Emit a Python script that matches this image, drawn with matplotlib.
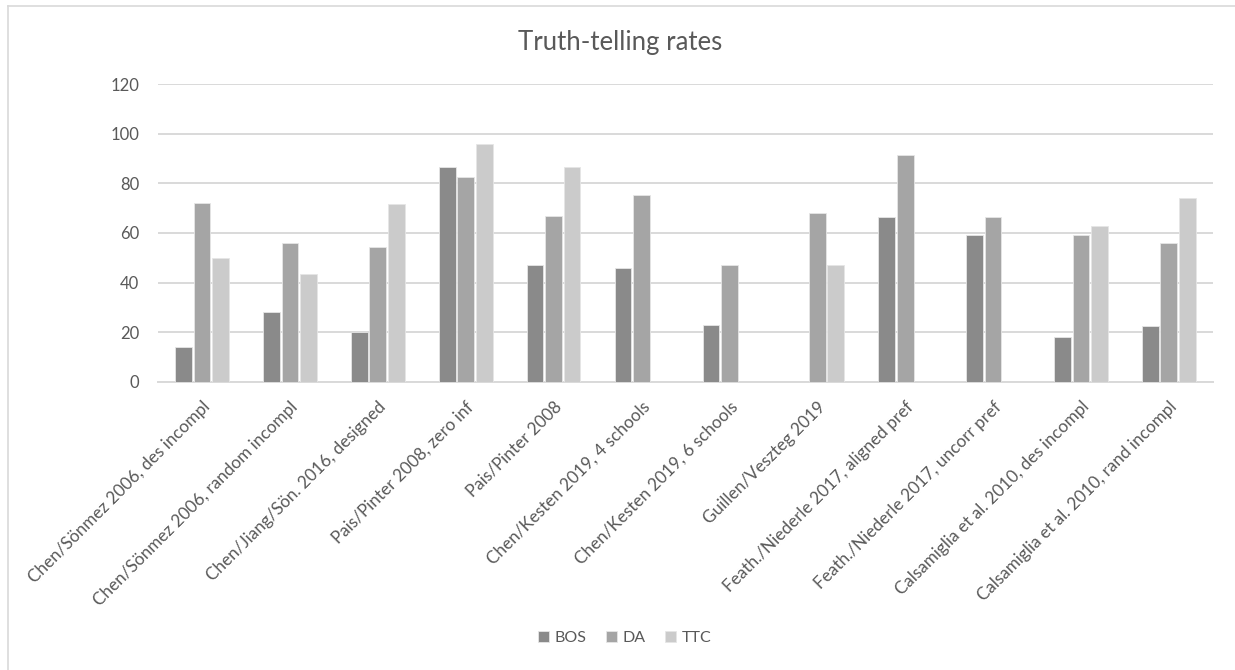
import numpy as np
import matplotlib
matplotlib.use('Agg')
import matplotlib.pyplot as plt
from matplotlib.lines import Line2D

plt.rcParams['font.family'] = ['Lato', 'DejaVu Sans']

# Daten
studies = ['Chen/Sönmez 2006, des incompl',
           'Chen/Sönmez 2006, random incompl',
           'Chen/Jiang/Sön. 2016, designed',
           'Pais/Pinter 2008, zero inf',
           'Pais/Pinter 2008',
           'Chen/Kesten 2019, 4 schools',
           'Chen/Kesten 2019, 6 schools',
           'Guillen/Veszteg 2019',
           'Feath./Niederle 2017, aligned pref',
           'Feath./Niederle 2017, uncorr pref',
           'Calsamiglia et al. 2010, des incompl',
           'Calsamiglia et al. 2010, rand incompl']
bos = [14, 28, 20, 86.5, 47, 46, 23, np.nan, 66.5, 59, 18, 22.5]
da = [72, 56, 54.5, 82.5, 67, 75.5, 47, 68, 91.5, 66.5, 59, 56]
ttc = [50, 43.5, 71.5, 96, 86.5, np.nan, np.nan, 47, np.nan, np.nan, 63, 74]
series = ['BOS', 'DA', 'TTC']
farben = ['#8a8a8a', '#a5a5a5', '#cbcbcb']

fig = plt.figure(figsize=(12.35, 6.7), dpi=100)
ax = fig.add_axes([0.128, 0.4299, 0.854, 0.4447])

x = np.arange(len(studies))
for i, werte in enumerate([bos, da, ttc]):
    ax.bar(x + (i - 1) * 0.21, werte, width=0.19, color=farben[i],
           edgecolor='#e6e6e6', linewidth=0.6, label=series[i], zorder=3)

ax.set_xlim(-0.5, len(studies) - 0.5)
ax.set_ylim(0, 120)
ax.set_yticks(range(0, 121, 20))
ax.yaxis.grid(True, color='#d9d9d9', linewidth=1.4, zorder=0)
for s in ['top', 'right', 'left']:
    ax.spines[s].set_visible(False)
ax.spines['bottom'].set_color('#d9d9d9')
ax.spines['bottom'].set_linewidth(1.4)
ax.tick_params(axis='both', length=0, colors='#595959', labelsize=12)
ax.tick_params(axis='y', pad=13.5)
ax.set_xticks(x)
ax.set_xticklabels(studies, rotation=45, ha='right', rotation_mode='anchor',
                   fontsize=12.3, color='#595959')
ax.tick_params(axis='x', pad=12)

fig.text(0.502, 0.937, 'Truth-telling rates', ha='center', va='center',
         fontsize=18.5, color='#595959')

fig.legend(loc='center', bbox_to_anchor=(0.506, 0.048), ncol=3, frameon=False,
           fontsize=11.5, handlelength=0.7, handleheight=0.7, handletextpad=0.35,
           columnspacing=1.2, labelcolor='#595959')

# Rahmen des Diagramms (oben und links sichtbar)
fig.add_artist(Line2D([8 / 1235, 1], [1 - 6 / 670, 1 - 6 / 670],
                      color='#d9d9d9', linewidth=1.2))
fig.add_artist(Line2D([8 / 1235, 8 / 1235], [0, 1 - 6 / 670],
                      color='#d9d9d9', linewidth=1.2))

fig.savefig('out.png', dpi=100, facecolor='white')
